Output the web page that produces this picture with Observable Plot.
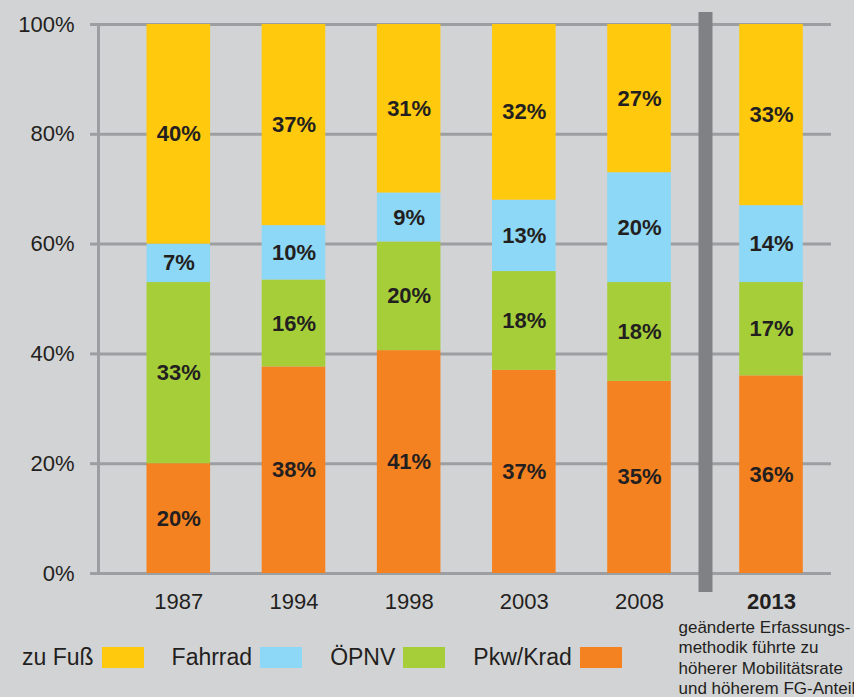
<!DOCTYPE html>
<html>
<head>
<meta charset="utf-8">
<script src="https://cdn.jsdelivr.net/npm/d3@7"></script>
<script src="https://cdn.jsdelivr.net/npm/@observablehq/plot@0.6"></script>
<style>
  html, body { margin: 0; padding: 0; background: #d2d3d5; }
  body { width: 854px; height: 697px; overflow: hidden; font-family: "Liberation Sans", Arial, sans-serif; }
  #wrap { position: relative; width: 854px; height: 697px; }
  #legend { position: absolute; left: 22px; top: 644px; display: flex; align-items: center; font-size: 23px; color: #231f20; }
  #legend .item { display: flex; align-items: center; margin-right: 28px; }
  #legend .sw { width: 42px; height: 21px; margin-left: 8px; display: inline-block; }
</style>
</head>
<body>
<div id="wrap"><div id="chart"></div><div id="legend"></div></div>
<script>
// ---- data ----
const years   = ["1987", "1994", "1998", "2003", "2008", "2013"];
const modes   = ["Pkw/Krad", "ÖPNV", "Fahrrad", "zu Fuß"];
const pkw     = [20, 38, 41, 37, 35, 36];
const oepnv   = [33, 16, 20, 18, 18, 17];
const fahrrad = [7, 10, 9, 13, 20, 14];
const fuss    = [40, 37, 31, 32, 27, 33];
const colors  = ["#f58220", "#a6ce39", "#8dd7f7", "#ffc90d"];
const legendOrder = ["zu Fuß", "Fahrrad", "ÖPNV", "Pkw/Krad"];
const yTicks  = [0, 0.2, 0.4, 0.6, 0.8, 1];
const noteYear = "2013";
const note = "geänderte Erfassungs-\nmethodik führte zu\nhöherer Mobilitätsrate\nund höherem FG-Anteil";

// ---- layout helpers ----
const gapExtra = 0.146;   // extra space before the 2013 bar (after separator)
const pos = y => years.indexOf(y) + (y === noteYear ? gapExtra : 0);
const half = 0.276;
const series = [pkw, oepnv, fahrrad, fuss];
const table = [];
years.forEach((yr, i) => modes.forEach((m, j) => table.push({year: yr, mode: m, value: series[j][i]})));

const sepPos = (pos("2008") + pos(noteYear)) / 2;
const grid = "#9d9ea1";
const ink = "#231f20";

const chart = Plot.plot({
  width: 854,
  height: 697,
  marginTop: 24,
  marginBottom: 124,
  marginLeft: 98,
  marginRight: 23,
  style: {background: "#d2d3d5", fontFamily: "'Liberation Sans', Arial, sans-serif", overflow: "visible"},
  x: {type: "linear", domain: [0, pos(noteYear)], range: [178.3, 771], axis: null},
  y: {domain: [0, 1], axis: null},
  color: {domain: modes, range: colors},
  marks: [
    Plot.ruleY(yTicks, {stroke: grid, strokeWidth: 3}),
    Plot.axisY({ticks: yTicks, tickFormat: d3.format(".0%"), tickSize: 8, tickPadding: 16,
      stroke: grid, strokeWidth: 3, fill: ink, fontSize: 22, label: null}),
    Plot.frame({anchor: "left", stroke: grid, strokeWidth: 3}),
    Plot.ruleX([sepPos], {x: d => d, stroke: "#808184", strokeWidth: 14, insetTop: -12, insetBottom: -19}),
    Plot.rect(table, Plot.stackY({
      x1: d => pos(d.year) - half, x2: d => pos(d.year) + half,
      y: "value", z: "mode", fill: "mode", offset: "normalize"
    })),
    Plot.text(table, Plot.stackY({
      x: d => pos(d.year), y: "value", z: "mode", offset: "normalize",
      text: d => d.value + "%", fontSize: 22, fontWeight: "bold", fill: ink, lineAnchor: "middle"
    })),
    Plot.text(years.filter(y => y !== noteYear), {x: pos, y: 0, text: d => d, dy: 28, fontSize: 22, fill: ink, lineAnchor: "middle"}),
    Plot.text([noteYear], {x: pos, y: 0, text: d => d, dy: 28, fontSize: 22, fontWeight: "bold", fill: ink, lineAnchor: "middle"}),
    Plot.text([note], {x: pos(noteYear), y: 0, text: d => d, dx: -93, dy: 45, textAnchor: "start", lineAnchor: "top",
      fontSize: 17, lineHeight: 1.2, fill: ink})
  ]
});
document.getElementById("chart").appendChild(chart);

const legend = document.getElementById("legend");
legendOrder.forEach(m => {
  const it = document.createElement("div");
  it.className = "item";
  const t = document.createElement("span");
  t.textContent = m;
  const s = document.createElement("span");
  s.className = "sw";
  s.style.background = colors[modes.indexOf(m)];
  it.appendChild(t); it.appendChild(s);
  legend.appendChild(it);
});
</script>
</body>
</html>
